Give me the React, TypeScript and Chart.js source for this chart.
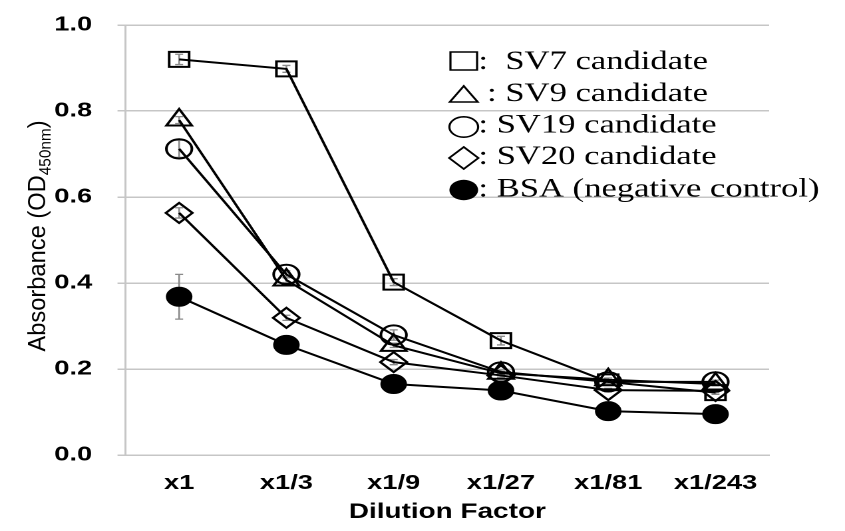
import React, { useEffect, useRef } from 'react';
import { Chart, registerables } from 'chart.js';

Chart.register(...registerables);

// ---- data ----
const categories = ['x1', 'x1/3', 'x1/9', 'x1/27', 'x1/81', 'x1/243'];
const yTickLabels = ['0.0', '0.2', '0.4', '0.6', '0.8', '1.0'];

const seriesNames = ['SV7 candidate', 'SV9 candidate', 'SV19 candidate', 'SV20 candidate', 'BSA (negative control)'];
const legendTexts = [':  SV7 candidate', ' : SV9 candidate', ': SV19 candidate', ': SV20 candidate', ': BSA (negative control)'];

const sv7 = [0.92, 0.898, 0.402, 0.266, 0.17, 0.145];
const sv9 = [0.779, 0.407, 0.255, 0.19, 0.175, 0.165];
const sv19 = [0.712, 0.42, 0.279, 0.193, 0.17, 0.17];
const sv20 = [0.563, 0.319, 0.216, 0.185, 0.151, 0.149];
const bsa = [0.368, 0.256, 0.165, 0.15, 0.102, 0.095];

const sv7Err = [0.012, 0.008, 0.008, 0.01, 0.005, 0.004];
const sv9Err = [0.008, 0.006, 0.005, 0.004, 0.004, 0.004];
const sv19Err = [0.02, 0.008, 0.012, 0.005, 0.004, 0.004];
const sv20Err = [0.012, 0.006, 0.006, 0.004, 0.004, 0.004];
const bsaErr = [0.052, 0.006, 0.005, 0.004, 0.004, 0.004];

const yTitleMain = 'Absorbance (OD';
const yTitleSub = '450nm';
const yTitleEnd = ')';
const xTitle = 'Dilution Factor';

// ---- layout (base coordinates, stretched horizontally afterwards) ----
const BASE_W = 635;
const H = 531;
const SX = 845 / BASE_W;
const SANS = '"Liberation Sans", Arial, sans-serif';
const SERIF = '"Liberation Serif", "Times New Roman", serif';
const GRID = '#c6c6c6';

const styles = [
  { pointStyle: 'rect', radius: 10.6, fill: 'rgba(0,0,0,0)' },
  { pointStyle: 'triangle', radius: 11, fill: 'rgba(0,0,0,0)' },
  { pointStyle: 'circle', radius: 9.6, fill: 'rgba(0,0,0,0)' },
  { pointStyle: 'rectRot', radius: 10, fill: 'rgba(0,0,0,0)' },
  { pointStyle: 'circle', radius: 9, fill: '#000' },
];

const errorBarPlugin = {
  id: 'errorBars',
  beforeDatasetsDraw(chart: any) {
    const ctx = chart.ctx;
    const y = chart.scales.y;
    ctx.save();
    ctx.strokeStyle = '#8a8a8a';
    ctx.lineWidth = 1.3;
    chart.data.datasets.forEach((ds: any, di: number) => {
      const meta = chart.getDatasetMeta(di);
      meta.data.forEach((pt: any, i: number) => {
        const e = ds.errors[i];
        if (!e) return;
        const v = ds.data[i];
        const yt = y.getPixelForValue(v + e);
        const yb = y.getPixelForValue(v - e);
        const x = pt.x;
        ctx.beginPath();
        ctx.moveTo(x, yt);
        ctx.lineTo(x, yb);
        ctx.moveTo(x - 3, yt);
        ctx.lineTo(x + 3, yt);
        ctx.moveTo(x - 3, yb);
        ctx.lineTo(x + 3, yb);
        ctx.stroke();
      });
    });
    ctx.restore();
  },
};

function drawSymbol(ctx: CanvasRenderingContext2D, kind: number, x: number, y: number) {
  ctx.beginPath();
  if (kind === 0) {
    ctx.rect(x - 10, y - 9, 20, 18);
  } else if (kind === 1) {
    ctx.moveTo(x, y - 9);
    ctx.lineTo(x + 10.5, y + 7);
    ctx.lineTo(x - 10.5, y + 7);
    ctx.closePath();
  } else if (kind === 2 || kind === 4) {
    ctx.ellipse(x, y, 10.8, 10.2, 0, 0, Math.PI * 2);
  } else if (kind === 3) {
    ctx.moveTo(x, y - 11);
    ctx.lineTo(x + 11, y);
    ctx.lineTo(x, y + 11);
    ctx.lineTo(x - 11, y);
    ctx.closePath();
  }
  if (kind === 4) {
    ctx.fillStyle = '#000';
    ctx.fill();
  } else {
    ctx.stroke();
  }
}

const legendPlugin = {
  id: 'insideLegend',
  afterDraw(chart: any) {
    const ctx = chart.ctx;
    const symX = 348.5;
    const textX = 359.5;
    const capCenters = [60.5, 92.5, 124, 155.5, 188];
    const symYs = [61, 95, 127, 158, 190];
    ctx.save();
    ctx.strokeStyle = '#000';
    ctx.lineWidth = 1.6;
    legendTexts.forEach((t, i) => {
      drawSymbol(ctx, i, symX, symYs[i]);
      ctx.fillStyle = '#000';
      ctx.font = `26px ${SERIF}`;
      ctx.textBaseline = 'alphabetic';
      ctx.textAlign = 'left';
      ctx.fillText(t, textX, capCenters[i] + 8.6);
    });
    ctx.restore();
  },
};

const yTitlePlugin = {
  id: 'yTitle',
  afterDraw(chart: any) {
    const ctx = chart.ctx;
    const main = 18.5;
    const sub = 12;
    ctx.save();
    ctx.translate(27.5, 236);
    ctx.rotate(-Math.PI / 2);
    ctx.scale(1.28, 1);
    ctx.fillStyle = '#000';
    ctx.textBaseline = 'alphabetic';
    ctx.textAlign = 'left';
    ctx.font = `${main}px ${SANS}`;
    const w1 = ctx.measureText(yTitleMain).width;
    const w3 = ctx.measureText(yTitleEnd).width;
    ctx.font = `${sub}px ${SANS}`;
    const w2 = ctx.measureText(yTitleSub).width;
    const total = w1 + w2 + w3;
    const base = main * 0.716 / 2;
    let x = -total / 2;
    ctx.font = `${main}px ${SANS}`;
    ctx.fillText(yTitleMain, x, base);
    x += w1;
    ctx.font = `${sub}px ${SANS}`;
    ctx.fillText(yTitleSub, x, base + 3.8);
    x += w2;
    ctx.font = `${main}px ${SANS}`;
    ctx.fillText(yTitleEnd, x, base);
    ctx.restore();
  },
};

export default function App() {
  const ref = useRef<HTMLCanvasElement>(null);

  useEffect(() => {
    if (!ref.current) return;
    const series = [sv7, sv9, sv19, sv20, bsa];
    const errs = [sv7Err, sv9Err, sv19Err, sv20Err, bsaErr];
    const chart = new Chart(ref.current, {
      type: 'line',
      data: {
        labels: categories,
        datasets: series.map((d, i) => ({
          label: seriesNames[i],
          data: d,
          errors: errs[i],
          borderColor: '#000',
          borderWidth: 2,
          tension: 0,
          fill: false,
          pointStyle: styles[i].pointStyle,
          pointRadius: styles[i].radius,
          pointHoverRadius: styles[i].radius,
          pointBorderColor: '#000',
          pointBackgroundColor: styles[i].fill,
          pointBorderWidth: 2,
        })) as any,
      },
      options: {
        animation: false,
        responsive: true,
        maintainAspectRatio: false,
        devicePixelRatio: 2,
        layout: { padding: { left: 0, top: 25, right: 57, bottom: 0 } },
        plugins: {
          legend: { display: false },
          tooltip: { enabled: false },
        },
        scales: {
          x: {
            type: 'category',
            offset: true,
            grid: { display: false, drawTicks: false },
            border: { display: true, color: GRID, width: 1.5 },
            ticks: {
              padding: 16,
              color: '#000',
              font: { family: SANS, size: 20.5, weight: 'bold' },
              maxRotation: 0,
              autoSkip: false,
            },
            title: {
              display: true,
              text: xTitle,
              color: '#000',
              font: { family: SANS, size: 21, weight: 'bold' },
              padding: { top: 0, bottom: 6 },
            },
            afterFit(scale: any) {
              scale.height = 76;
              scale.paddingLeft = 0;
              scale.paddingRight = 0;
            },
          },
          y: {
            min: 0,
            max: 1,
            grid: { color: GRID, lineWidth: 1.5, tickLength: 6, drawTicks: true },
            border: { display: true, color: GRID, width: 1.5 },
            ticks: {
              stepSize: 0.2,
              padding: 19,
              color: '#000',
              font: { family: SANS, size: 20.5, weight: 'bold' },
              callback: (_v: any, idx: number) => yTickLabels[idx],
            },
            afterFit(scale: any) {
              scale.width = 94.3;
              scale.paddingTop = 0;
              scale.paddingBottom = 0;
            },
          },
        },
      } as any,
      plugins: [errorBarPlugin, legendPlugin, yTitlePlugin],
    });
    return () => chart.destroy();
  }, []);

  return (
    <div
      style={{
        position: 'absolute',
        left: 0,
        top: 0,
        width: BASE_W,
        height: H,
        transform: `scaleX(${SX})`,
        transformOrigin: '0 0',
      }}
    >
      <canvas ref={ref} />
    </div>
  );
}
